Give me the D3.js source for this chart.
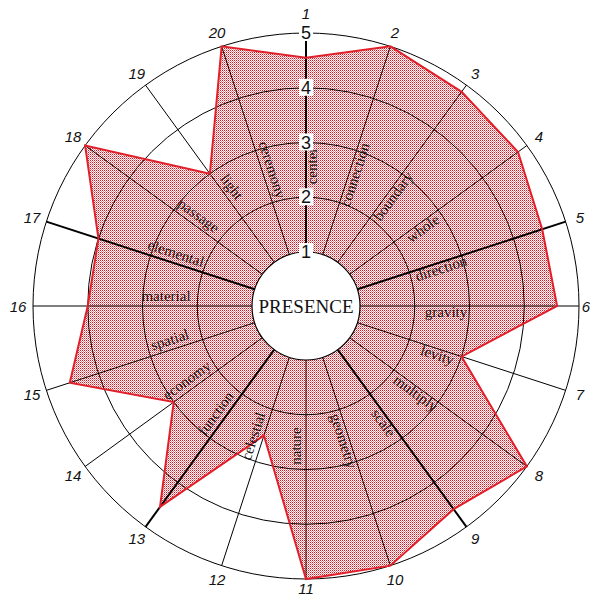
<!DOCTYPE html>
<html>
    <head>
        <script src="https://d3js.org/d3.v7.js"></script>
        <style>
            body{
                margin: 0;
                background: white;
            }
            .cat{
                font-family: "Liberation Serif", "DejaVu Serif", serif;
                font-size: 15px;
                fill: #111;
            }
            .num{
                font-family: "Liberation Sans", Arial, sans-serif;
                font-size: 15px;
                font-style: italic;
                fill: #111;
            }
            .val{
                font-family: "Liberation Sans", Arial, sans-serif;
                font-size: 18px;
                fill: #111;
            }
        </style>
    </head>
    <body>
        <div class = 'graph'>
            <script>
                const axisNumbers = ['1','2','3','4','5','6','7','8','9','10','11','12','13','14','15','16','17','18','19','20']
                const categories = ['center','connection','boundary','whole','direction','gravity','levity','multiply','scale','geometry',
                                    'nature','celestial','function','economy','spatial','material','elemental','passage','light','ceremony']
                const values = [4.55, 5, 4.85, 4.8, 4.55, 4.6, 3, 5, 4.6, 5, 5, 2.5, 4.55, 3, 4.55, 4, 4, 5, 3, 5]
                const ringTicks = [1, 2, 3, 4, 5]
                const centerLabel = 'PRESENCE'

                const w = 590
                const h = 598
                const cx = 306
                const cy = 306
                const inner = 54
                const outer = 273
                const n = axisNumbers.length

                const svg = d3.select('.graph')
                        .append('svg')
                        .attr('width', w)
                        .attr('height', h)

                // stipple fill
                const pat = svg.append('defs').append('pattern')
                        .attr('id', 'dots')
                        .attr('patternUnits', 'userSpaceOnUse')
                        .attr('width', 2)
                        .attr('height', 2)
                pat.append('rect').attr('width', 2).attr('height', 2).attr('fill', '#ffffff')
                pat.append('rect').attr('width', 1).attr('height', 1).attr('fill', '#dc1420')
                pat.append('rect').attr('x', 1).attr('y', 1).attr('width', 1).attr('height', 1).attr('fill', '#f08a90')

                const g = svg.append('g').attr('transform', 'translate(' + cx + ',' + cy + ')')

                const rScale = d3.scaleLinear().domain([1, 5]).range([inner, outer])
                const angle = d3.scaleLinear().domain([0, n]).range([0, 2 * Math.PI])

                const radial = d3.lineRadial()
                        .angle((d, i) => angle(i))
                        .radius(d => rScale(d))
                        .curve(d3.curveLinearClosed)

                g.append('path')
                    .attr('d', radial(values))
                    .attr('fill', 'url(#dots)')
                    .attr('stroke', 'none')

                // rings
                g.selectAll('.ring')
                    .data(ringTicks.slice(1))
                    .enter()
                    .append('circle')
                    .attr('class', 'ring')
                    .attr('r', d => rScale(d))
                    .attr('fill', 'none')
                    .attr('stroke', '#000')
                    .attr('stroke-width', 1)

                // spokes
                g.selectAll('.spoke')
                    .data(axisNumbers)
                    .enter()
                    .append('line')
                    .attr('class', 'spoke')
                    .attr('x1', (d, i) => inner * Math.sin(angle(i)))
                    .attr('y1', (d, i) => -inner * Math.cos(angle(i)))
                    .attr('x2', (d, i) => outer * Math.sin(angle(i)))
                    .attr('y2', (d, i) => -outer * Math.cos(angle(i)))
                    .attr('stroke', '#000')
                    .attr('stroke-width', (d, i) => i % 4 == 0 ? 2 : 1)

                g.append('path')
                    .attr('d', radial(values))
                    .attr('fill', 'none')
                    .attr('stroke', '#e0202a')
                    .attr('stroke-width', 2)
                    .attr('stroke-linejoin', 'miter')

                // category labels, on the clockwise side of each spoke
                const labelR = 140
                g.selectAll('.cat')
                    .data(categories)
                    .enter()
                    .append('text')
                    .attr('class', 'cat')
                    .attr('text-anchor', 'middle')
                    .attr('transform', (d, i) => {
                        const a = angle(i) * 180 / Math.PI
                        return 'rotate(' + a + ') translate(0,' + (-labelR) + ') rotate(' + (a < 180 ? -90 : 90) + ')'
                    })
                    .attr('y', (d, i) => angle(i) * 180 / Math.PI < 180 ? 11 : -5)
                    .text(d => d)

                // spoke numbers (6 and 11 pulled in a bit so they stay on the page)
                const numR = 288
                g.selectAll('.num')
                    .data(axisNumbers)
                    .enter()
                    .append('text')
                    .attr('class', 'num')
                    .attr('x', (d, i) => (i == 5 ? 280 : numR) * Math.sin(angle(i)))
                    .attr('y', (d, i) => -(i == 10 ? 282 : numR) * Math.cos(angle(i)) - (i == 0 ? 5 : 0))
                    .attr('text-anchor', 'middle')
                    .attr('dominant-baseline', 'central')
                    .text(d => d)

                // centre hole
                g.append('circle')
                    .attr('r', inner)
                    .attr('fill', 'white')
                    .attr('stroke', '#000')
                    .attr('stroke-width', 1.2)

                g.append('text')
                    .attr('text-anchor', 'middle')
                    .attr('dominant-baseline', 'central')
                    .attr('font-family', '"Liberation Serif", serif')
                    .attr('font-size', 19)
                    .attr('fill', '#111')
                    .text(centerLabel)

                // value scale along spoke 1
                const vals = g.selectAll('.vlab')
                    .data(ringTicks)
                    .enter()
                    .append('g')
                    .attr('class', 'vlab')
                    .attr('transform', d => 'translate(0,' + (-rScale(d)) + ')')
                vals.append('rect')
                    .attr('x', -7)
                    .attr('y', -9)
                    .attr('width', 14)
                    .attr('height', 17)
                    .attr('fill', 'white')
                vals.append('text')
                    .attr('class', 'val')
                    .attr('text-anchor', 'middle')
                    .attr('dominant-baseline', 'central')
                    .attr('y', 0)
                    .text(d => d)
            </script>
        </div>
    </body>
</html>
